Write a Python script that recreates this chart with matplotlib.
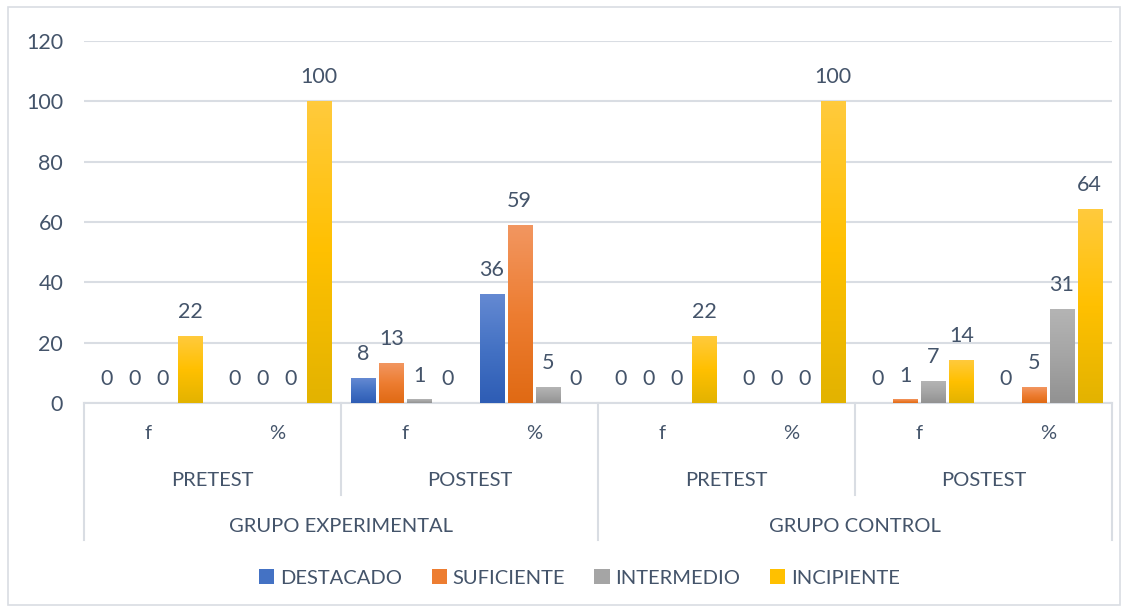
import numpy as np
import matplotlib.pyplot as plt
from matplotlib.colors import LinearSegmentedColormap
from matplotlib.patches import Rectangle

# datos
grupos = ['GRUPO EXPERIMENTAL', 'GRUPO CONTROL']
momentos = ['PRETEST', 'POSTEST', 'PRETEST', 'POSTEST']
medidas = ['f', '%', 'f', '%', 'f', '%', 'f', '%']
niveles = ['DESTACADO', 'SUFICIENTE', 'INTERMEDIO', 'INCIPIENTE']
destacado = [0, 0, 8, 36, 0, 0, 0, 0]
suficiente = [0, 0, 13, 59, 0, 0, 1, 5]
intermedio = [0, 0, 1, 5, 0, 0, 7, 31]
incipiente = [22, 100, 0, 0, 22, 100, 14, 64]
series = [destacado, suficiente, intermedio, incipiente]

# colores (claro arriba, base, oscuro abajo)
colores = ['#4472C4', '#ED7D31', '#A5A5A5', '#FFC000']
grad = [('#6489D2', '#4472C4', '#2E5DB5'),
        ('#F29660', '#ED7D31', '#E06A14'),
        ('#B4B4B4', '#A5A5A5', '#929292'),
        ('#FFCA3C', '#FFC000', '#E3B300')]
txt = '#44546A'
linea = '#D9DDE3'
fs = 14.5

plt.rcParams['font.family'] = ['Lato', 'DejaVu Sans']

fig = plt.figure(figsize=(11.29, 6.12), dpi=100)
fig.patches.append(Rectangle((8 / 1129, 7 / 612), 1112 / 1129, 598 / 612,
                             transform=fig.transFigure, fill=False,
                             edgecolor=linea, lw=1.2))
ax = fig.add_axes([84 / 1129, 1 - 403 / 612, 1028 / 1129, 362 / 612])

x = np.arange(len(medidas))
paso = 0.218
ancho = 0.187
for i, (vals, nombre) in enumerate(zip(series, niveles)):
    pos = x + (i - 1.5) * paso
    barras = ax.bar(pos, vals, ancho, color=colores[i], label=nombre, zorder=2)
    cmap = LinearSegmentedColormap.from_list('g%d' % i, [grad[i][2], grad[i][1], grad[i][0]])
    for b, v in zip(barras, vals):
        if v > 0:
            ax.imshow(np.linspace(0, 1, 64).reshape(-1, 1), cmap=cmap, origin='lower',
                      extent=[b.get_x(), b.get_x() + b.get_width(), 0, b.get_height()],
                      aspect='auto', zorder=3, interpolation='bilinear')
        ax.text(b.get_x() + b.get_width() / 2, v + 4.8, str(v), ha='center', va='bottom',
                fontsize=15.5, color=txt, zorder=4)

ax.set_xlim(-0.5, len(medidas) - 0.5)
ax.set_ylim(0, 120)
ax.set_yticks(np.arange(0, 121, 20))
ax.tick_params(axis='y', length=0, labelsize=15.5, labelcolor=txt, pad=15)
ax.set_xticks([])
ax.grid(axis='y', color=linea, lw=1.5, zorder=0)
for s in ['top', 'right', 'left']:
    ax.spines[s].set_visible(False)
ax.spines['bottom'].set_color(linea)
ax.spines['bottom'].set_linewidth(1.5)

# tabla de categorias bajo el eje
tr = ax.get_xaxis_transform()
for xi, m in zip(x, medidas):
    ax.text(xi, -0.083, m, transform=tr, ha='center', va='center', fontsize=fs, color=txt)
for j, mo in enumerate(momentos):
    ax.text(2 * j + 0.5, -0.215, mo, transform=tr, ha='center', va='center',
            fontsize=fs, color=txt)
for k, g in enumerate(grupos):
    ax.text(4 * k + 1.5, -0.34, g, transform=tr, ha='center', va='center',
            fontsize=fs, color=txt)
for xb in [-0.5, 1.5, 3.5, 5.5, 7.5]:
    fondo = -0.378 if xb in (-0.5, 3.5, 7.5) else -0.254
    ax.plot([xb, xb], [0, fondo], transform=tr, color=linea, lw=1.5, clip_on=False)

ax.legend(loc='center', bbox_to_anchor=(0.482, -0.483), ncol=4, frameon=False,
          fontsize=fs, labelcolor=txt, handlelength=0.75, handleheight=0.75,
          handletextpad=0.3, columnspacing=1.45)

fig.savefig('out.png', dpi=100)
